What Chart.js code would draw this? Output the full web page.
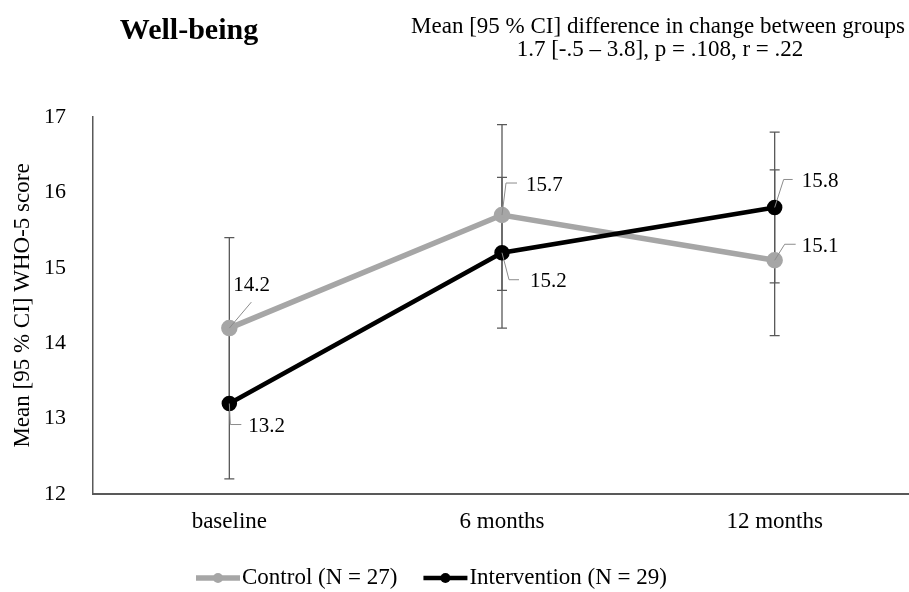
<!DOCTYPE html>
<html>
<head>
<meta charset="utf-8">
<script src="https://cdn.jsdelivr.net/npm/chart.js@4.4.1/dist/chart.umd.min.js"></script>
<style>
  html, body { margin: 0; padding: 0; background: #fff; overflow: hidden; }
  #wrap { position: relative; width: 922px; height: 592px; }
</style>
</head>
<body>
<div id="wrap"><canvas id="chart"></canvas></div>
<script>
// Time points
const categories = ['baseline', '6 months', '12 months'];

// Control group: mean and 95 % CI bounds
const controlMean = [14.2, 15.7, 15.1];
const controlLow  = [13.2, 14.7, 14.1];
const controlHigh = [15.4, 16.9, 16.3];

// Intervention group: mean and 95 % CI bounds
const interventionMean = [13.2, 15.2, 15.8];
const interventionLow  = [12.2, 14.2, 14.8];
const interventionHigh = [14.2, 16.2, 16.8];

// Y axis range
const yMin = 12, yMax = 17, yStep = 1;

const titleText = 'Well-being';
const subtitleLines = [
  'Mean [95 % CI] difference in change between groups',
  '1.7 [-.5 \u2013 3.8], p = .108, r = .22'
];

const SERIF = '"Liberation Serif", "Times New Roman", serif';
const GREY = '#a6a6a6';
const BLACK = '#000000';
const BAR = '#595959';

// Offsets for the value labels (leader line elbow and text anchor), per dataset and point
const labelLayout = [
  // control
  [ { elbow: [22, -26], end: [22, -26], text: [4, -43], align: 'left' },
    { elbow: [4, -32], end: [15, -32], text: [24, -30], align: 'left' },
    { elbow: [10, -16], end: [21, -16], text: [27, -14], align: 'left' } ],
  // intervention
  [ { elbow: [1, 21], end: [12, 21], text: [19, 23], align: 'left' },
    { elbow: [7, 27], end: [17, 27], text: [28, 29], align: 'left' },
    { elbow: [9, -28], end: [18, -28], text: [27, -26], align: 'left' } ]
];

const ciBounds = [
  { low: controlLow, high: controlHigh },
  { low: interventionLow, high: interventionHigh }
];

// Vertical CI whiskers with caps, drawn under the lines
const errorBars = {
  id: 'errorBars',
  beforeDatasetsDraw(chart) {
    const ctx = chart.ctx;
    const x = chart.scales.x, y = chart.scales.y;
    ctx.save();
    ctx.strokeStyle = BAR;
    ctx.lineWidth = 1.3;
    ciBounds.forEach(b => {
      b.low.forEach((lo, i) => {
        const px = x.getPixelForValue(i);
        const p1 = y.getPixelForValue(lo);
        const p2 = y.getPixelForValue(b.high[i]);
        ctx.beginPath();
        ctx.moveTo(px, p1); ctx.lineTo(px, p2);
        ctx.moveTo(px - 5, p1); ctx.lineTo(px + 5, p1);
        ctx.moveTo(px - 5, p2); ctx.lineTo(px + 5, p2);
        ctx.stroke();
      });
    });
    ctx.restore();
  }
};

// Value labels with leader lines
const valueLabels = {
  id: 'valueLabels',
  afterDatasetsDraw(chart) {
    const ctx = chart.ctx;
    ctx.save();
    ctx.font = '21px ' + SERIF;
    ctx.textBaseline = 'middle';
    chart.data.datasets.forEach((ds, di) => {
      const meta = chart.getDatasetMeta(di);
      meta.data.forEach((pt, i) => {
        const L = labelLayout[di][i];
        const x0 = pt.x, y0 = pt.y;
        ctx.strokeStyle = '#8c8c8c';
        ctx.lineWidth = 1;
        ctx.beginPath();
        ctx.moveTo(x0, y0);
        ctx.lineTo(x0 + L.elbow[0], y0 + L.elbow[1]);
        ctx.lineTo(x0 + L.end[0], y0 + L.end[1]);
        ctx.stroke();
        ctx.fillStyle = '#000';
        ctx.textAlign = L.align;
        ctx.fillText(ds.data[i].toFixed(1), x0 + L.text[0], y0 + L.text[1]);
      });
    });
    ctx.restore();
  }
};

// Heading, statistics text and bottom legend
const annotations = {
  id: 'annotations',
  afterDraw(chart) {
    const ctx = chart.ctx;
    ctx.save();
    ctx.fillStyle = '#000';
    ctx.textBaseline = 'middle';
    ctx.textAlign = 'center';
    ctx.font = 'bold 30px ' + SERIF;
    ctx.fillText(titleText, 189, 31);
    ctx.font = '23px ' + SERIF;
    ctx.fillText(subtitleLines[0], 658, 27);
    ctx.fillText(subtitleLines[1], 660, 50);

    // legend
    const items = chart.data.datasets;
    const y = 578;
    let x = 196;
    ctx.textAlign = 'left';
    ctx.font = '23px ' + SERIF;
    items.forEach((ds, i) => {
      ctx.strokeStyle = ds.borderColor;
      ctx.lineWidth = ds.borderWidth;
      ctx.beginPath();
      ctx.moveTo(x, y); ctx.lineTo(x + 44, y);
      ctx.stroke();
      ctx.fillStyle = ds.pointBackgroundColor;
      ctx.beginPath();
      ctx.arc(x + 22, y, 5, 0, Math.PI * 2);
      ctx.fill();
      ctx.fillStyle = '#000';
      ctx.fillText(ds.label, x + 46, y);
      x += 46 + ctx.measureText(ds.label).width + 26;
    });
    ctx.restore();
  }
};

new Chart(document.getElementById('chart'), {
  type: 'line',
  data: {
    labels: categories,
    datasets: [
      {
        label: 'Control (N = 27)',
        data: controlMean,
        borderColor: GREY,
        backgroundColor: GREY,
        pointBackgroundColor: GREY,
        pointBorderColor: GREY,
        borderWidth: 5.5,
        pointRadius: 5.5,
        order: 1
      },
      {
        label: 'Intervention (N = 29)',
        data: interventionMean,
        borderColor: BLACK,
        backgroundColor: BLACK,
        pointBackgroundColor: BLACK,
        pointBorderColor: BLACK,
        borderWidth: 4.5,
        pointRadius: 5.5,
        order: 0
      }
    ]
  },
  options: {
    responsive: true,
    maintainAspectRatio: false,
    animation: false,
    layout: { padding: { top: 117, bottom: 58, left: 0, right: 0 } },
    plugins: {
      legend: { display: false },
      tooltip: { enabled: false },
      title: { display: false }
    },
    scales: {
      x: {
        type: 'category',
        offset: true,
        grid: { display: false, drawTicks: false },
        border: { display: true, color: '#595959', width: 2 },
        ticks: { color: '#000', font: { family: SERIF, size: 23 }, padding: 14 },
        afterFit(scale) { scale.height = 40; }
      },
      y: {
        min: yMin, max: yMax,
        grid: { display: false, drawTicks: false },
        border: { display: true, color: '#595959', width: 1.5 },
        ticks: { stepSize: yStep, color: '#000', font: { family: SERIF, size: 22 }, padding: 27 },
        title: {
          display: true,
          text: 'Mean [95 % CI] WHO-5 score',
          color: '#000',
          font: { family: SERIF, size: 23 },
          padding: { top: 9, bottom: 0 }
        },
        afterFit(scale) { scale.width = 93; }
      }
    }
  },
  plugins: [errorBars, valueLabels, annotations]
});
</script>
</body>
</html>
